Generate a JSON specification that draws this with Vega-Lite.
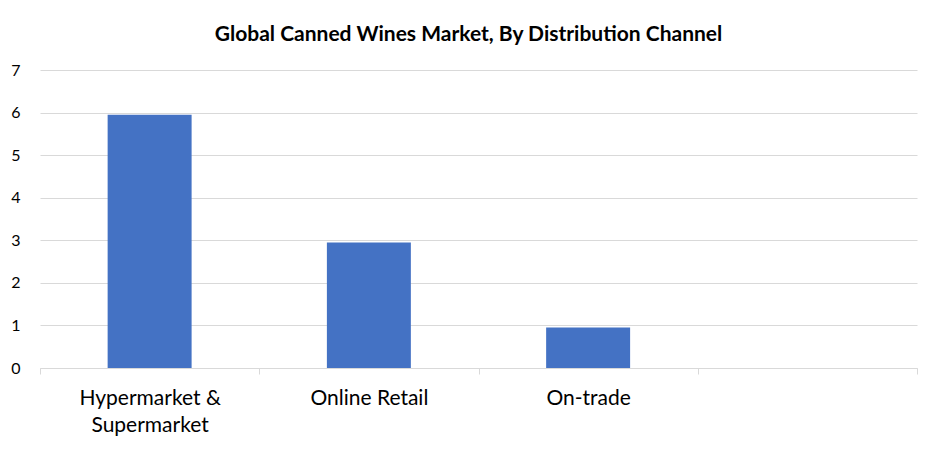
{
  "$schema": "https://vega.github.io/schema/vega-lite/v6.json",
  "autosize": "none",
  "width": 877,
  "height": 298,
  "padding": {"left": 40, "top": 70, "right": 23, "bottom": 84},
  "background": "white",
  "title": {
    "text": "Global Canned Wines Market, By Distribution Channel",
    "font": "Lato",
    "fontSize": 21,
    "fontWeight": "bold",
    "color": "#000000",
    "anchor": "middle",
    "dx": -10,
    "offset": 17
  },
  "data": {
    "values": [
      {"channel": "Hypermarket & Supermarket", "value": 5.95},
      {"channel": "Online Retail", "value": 2.95},
      {"channel": "On-trade", "value": 0.95},
      {"channel": " ", "value": null}
    ]
  },
  "mark": {"type": "bar", "color": "#4472C4", "width": {"band": 0.383}},
  "encoding": {
    "x": {
      "field": "channel",
      "type": "nominal",
      "sort": null,
      "scale": {"domain": ["Hypermarket & Supermarket", "Online Retail", "On-trade", " "], "paddingInner": 0, "paddingOuter": 0},
      "axis": {
        "title": null,
        "labelAngle": 0,
        "tickBand": "extent",
        "labelExpr": "datum.value == 'Hypermarket & Supermarket' ? ['Hypermarket &', 'Supermarket'] : datum.value",
        "labelFont": "Lato",
        "labelFontSize": 21,
        "labelColor": "#000000",
        "labelPadding": 13,
        "labelLineHeight": 27,
        "domainColor": "#d9d9d9",
        "tickColor": "#d9d9d9",
        "tickSize": 6,
        "grid": false
      }
    },
    "y": {
      "field": "value",
      "type": "quantitative",
      "scale": {"domain": [0, 7], "nice": false},
      "axis": {
        "title": null,
        "values": [0, 1, 2, 3, 4, 5, 6, 7],
        "labelFont": "Lato",
        "labelFontSize": 16,
        "labelColor": "#000000",
        "labelPadding": 20,
        "domain": false,
        "ticks": false,
        "grid": true,
        "gridColor": "#d9d9d9",
        "gridWidth": 1
      }
    }
  },
  "config": {"view": {"stroke": null}}
}
